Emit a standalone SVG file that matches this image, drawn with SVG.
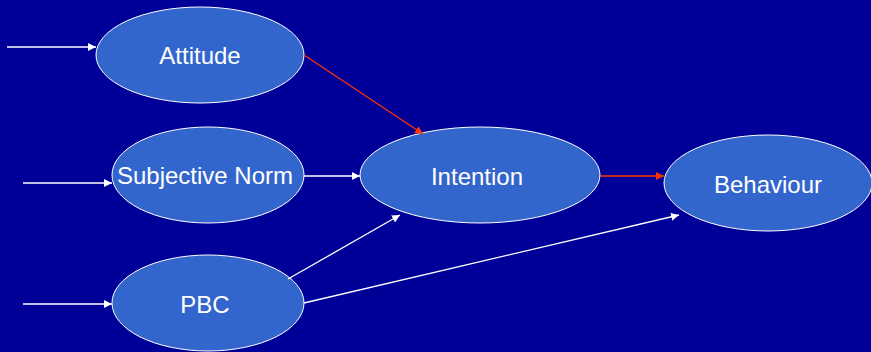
<svg xmlns="http://www.w3.org/2000/svg" width="871" height="352" viewBox="0 0 871 352">
<defs>
<style>
.node{fill:#3366CC;stroke:#FFFFFF;stroke-width:1}
.lbl{font-family:"Liberation Sans",Arial,sans-serif;font-size:24px;fill:#FFFFFF;text-anchor:middle}
.w{stroke:#FFFFFF;stroke-width:1.3;fill:none;marker-end:url(#aw)}
.r{stroke:#FF3300;stroke-width:1.3;fill:none;marker-end:url(#ar)}
</style>
<marker id="aw" viewBox="0 0 10 10" refX="10" refY="5" markerWidth="8" markerHeight="8" markerUnits="userSpaceOnUse" orient="auto"><path d="M0,0 L10,5 L0,10 z" fill="#FFFFFF"/></marker>
<marker id="ar" viewBox="0 0 10 10" refX="10" refY="5" markerWidth="8" markerHeight="8" markerUnits="userSpaceOnUse" orient="auto"><path d="M0,0 L10,5 L0,10 z" fill="#FF3300"/></marker>
</defs>
<rect width="871" height="352" fill="#000099"/>
<g id="attitude"><ellipse class="node" cx="200" cy="55" rx="104" ry="48"/><text class="lbl" x="200" y="64">Attitude</text></g>
<g id="subjective-norm"><ellipse class="node" cx="208" cy="175" rx="96" ry="48"/><text class="lbl" x="205" y="184">Subjective Norm</text></g>
<g id="pbc"><ellipse class="node" cx="208" cy="303" rx="96" ry="48"/><text class="lbl" x="205" y="313">PBC</text></g>
<g id="intention"><ellipse class="node" cx="480" cy="175" rx="120" ry="48"/><text class="lbl" x="477" y="185">Intention</text></g>
<g id="behaviour"><ellipse class="node" cx="768" cy="183" rx="104" ry="48"/><text class="lbl" x="768" y="193">Behaviour</text></g>
<g id="connectors">
<line class="w" x1="7" y1="47" x2="96" y2="47"/>
<line class="w" x1="23" y1="183" x2="112" y2="183"/>
<line class="w" x1="23" y1="304" x2="112" y2="304"/>
<line class="w" x1="304" y1="176" x2="360" y2="176"/>
<line class="r" x1="304" y1="55" x2="423" y2="134"/>
<line class="r" x1="600" y1="176" x2="664" y2="176"/>
<line class="w" x1="288" y1="279" x2="400" y2="215"/>
<line class="w" x1="304" y1="303" x2="679" y2="215"/>
</g>
</svg>
